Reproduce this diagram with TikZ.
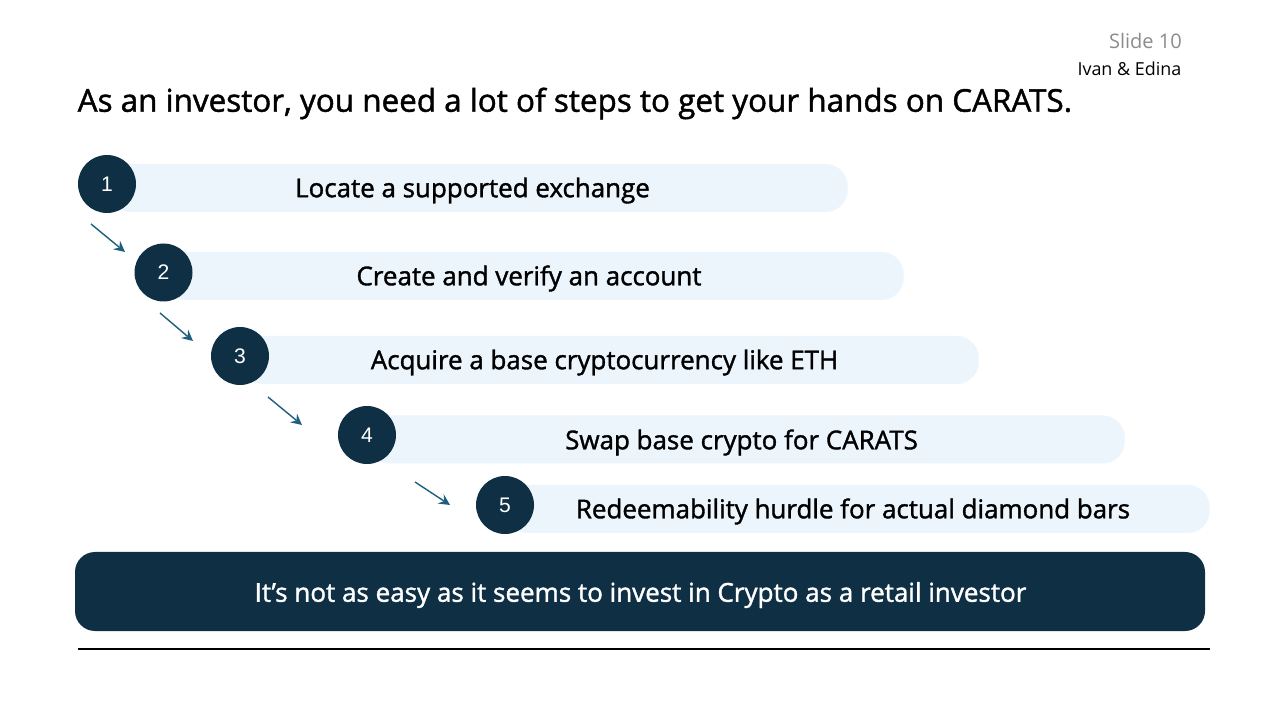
\documentclass[tikz,border=0pt]{standalone}
\usepackage{fontspec}
\setmainfont{Open Sans}
\newfontfamily\semifont[FakeBold=1.4]{Open Sans}
\newfontfamily\numfont{Liberation Sans}
\definecolor{darkteal}{HTML}{0F3044}
\definecolor{palebar}{HTML}{EDF5FC}
\definecolor{arrowteal}{HTML}{1F5F7E}
\definecolor{slidegray}{HTML}{8C8C8C}
\tikzset{
  stepbar/.style={fill=palebar, rounded corners=0.22cm, minimum height=0.48cm, inner sep=0pt, anchor=west},
  stepnum/.style={circle, fill=darkteal, text=white, minimum size=0.58cm, inner sep=0pt, font=\numfont\fontsize{6}{7}\selectfont},
  steptext/.style={text=black, inner sep=0pt, font=\semifont\fontsize{7.38}{8.8}\selectfont},
  steparrow/.style={-stealth, arrowteal, line width=0.4pt}
}

\begin{document}
\begin{tikzpicture}[y=-1cm]

% Page area
\path[use as bounding box, fill=white] (0,0) rectangle (12.8,7.2);

% Header texts
\node[anchor=east, inner sep=0pt, text=slidegray, font=\fontsize{5.7}{7}\selectfont] (slideno) at (11.825,0.41) {Slide 10};
\node[anchor=east, inner sep=0pt, font=\fontsize{5.1}{6}\selectfont] (authors) at (11.82,0.685) {Ivan \& Edina};
\node[anchor=west, inner sep=0pt, font=\semifont\fontsize{8.94}{11}\selectfont] (title) at (0.77,1.035) {As an investor, you need a lot of steps to get your hands on CARATS.};

% Bars behind the numbers
\node[stepbar, minimum width=7.40cm] (bar1) at (1.07,1.88) {};
\node[stepbar, minimum width=7.40cm] (bar2) at (1.63,2.76) {};
\node[stepbar, minimum width=7.38cm] (bar3) at (2.40,3.60) {};
\node[stepbar, minimum width=7.57cm] (bar4) at (3.67,4.395) {};
\node[stepbar, minimum width=7.04cm] (bar5) at (5.05,5.09) {};

% Numbered circles
\node[stepnum] (num1) at (1.07,1.84) {1};
\node[stepnum] (num2) at (1.635,2.725) {2};
\node[stepnum] (num3) at (2.40,3.56) {3};
\node[stepnum] (num4) at (3.67,4.35) {4};
\node[stepnum] (num5) at (5.05,5.05) {5};

% Step labels
\node[steptext] (text1) at (4.725,1.905) {Locate a supported exchange};
\node[steptext] (text2) at (5.29,2.785) {Create and verify an account};
\node[steptext] (text3) at (6.045,3.625) {Acquire a base cryptocurrency like ETH};
\node[steptext] (text4) at (7.415,4.425) {Swap base crypto for CARATS};
\node[steptext] (text5) at (8.53,5.115) {Redeemability hurdle for actual diamond bars};

% Arrows between the steps
\coordinate (arrow1a) at (0.91,2.24);
\coordinate (arrow1b) at (1.25,2.52);
\coordinate (arrow2a) at (1.60,3.13);
\coordinate (arrow2b) at (1.93,3.41);
\coordinate (arrow3a) at (2.68,3.97);
\coordinate (arrow3b) at (3.02,4.25);
\coordinate (arrow4a) at (4.15,4.82);
\coordinate (arrow4b) at (4.50,5.05);
\draw[steparrow] (arrow1a) -- (arrow1b);
\draw[steparrow] (arrow2a) -- (arrow2b);
\draw[steparrow] (arrow3a) -- (arrow3b);
\draw[steparrow] (arrow4a) -- (arrow4b);

% Conclusion box
\node[fill=darkteal, rounded corners=0.2cm, minimum width=11.30cm, minimum height=0.79cm, inner sep=0pt] (result) at (6.40,5.915) {};
\node[inner sep=0pt, text=white, font=\semifont\fontsize{7.4}{8.8}\selectfont] (resulttext) at (6.405,5.95) {It’s not as easy as it seems to invest in Crypto as a retail investor};

% Bottom rule
\coordinate (ruleL) at (0.78,6.49);
\coordinate (ruleR) at (12.10,6.49);
\draw[line width=0.5pt] (ruleL) -- (ruleR);

\end{tikzpicture}
\end{document}
